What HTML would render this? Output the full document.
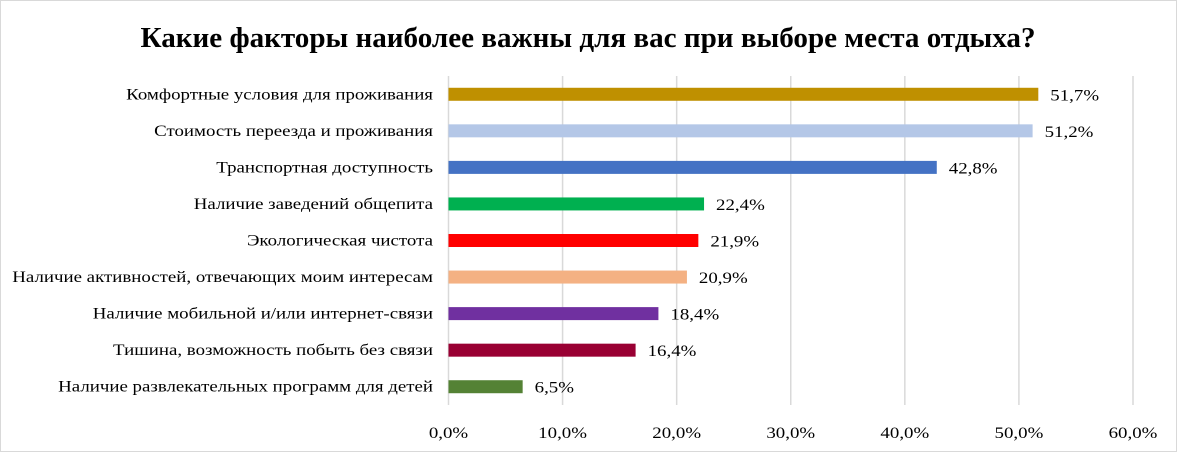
<!DOCTYPE html>
<html><head><meta charset="utf-8">
<style>
html,body{margin:0;padding:0;background:#fff}
svg{display:block}
text{font-family:"Liberation Serif","DejaVu Serif",serif;fill:#000}
</style></head>
<body>
<svg id="chart" width="1177" height="452" viewBox="0 0 1177 452">
<rect x="0.5" y="0.5" width="1176" height="451" fill="#fff" stroke="#d9d9d9" stroke-width="1"/>
<text x="588" y="47" text-anchor="middle" font-size="28" font-weight="bold" textLength="895" lengthAdjust="spacingAndGlyphs">Какие факторы наиболее важны для вас при выборе места отдыха?</text>
<g id="grid"></g><g id="bars"></g><g id="labels"></g>
</svg>
<script>
const categories = ["Комфортные условия для проживания","Стоимость переезда и проживания","Транспортная доступность","Наличие заведений общепита","Экологическая чистота","Наличие активностей, отвечающих моим интересам","Наличие мобильной и/или интернет-связи","Тишина, возможность побыть без связи","Наличие развлекательных программ для детей"];
const values = [51.7,51.2,42.8,22.4,21.9,20.9,18.4,16.4,6.5];
const valueLabels = ["51,7%","51,2%","42,8%","22,4%","21,9%","20,9%","18,4%","16,4%","6,5%"];
const colors = ["#bf9000","#b4c7e7","#4472c4","#00b050","#ff0000","#f4b183","#7030a0","#990033","#548235"];
const ticks = [0,10,20,30,40,50,60];
const tickLabels = ["0,0%","10,0%","20,0%","30,0%","40,0%","50,0%","60,0%"];

const NS="http://www.w3.org/2000/svg";
const x0=448.5, pxPer=(1133-448.5)/60;
const xs=v=>x0+v*pxPer;
const yTop=76, yBot=405, band=(yBot-yTop)/categories.length;
const yc=i=>yTop+band*(i+0.5);
const STRETCH=1.18;
const grid=document.getElementById('grid'), bars=document.getElementById('bars'), labels=document.getElementById('labels');
function mk(tag,attrs,parent){const e=document.createElementNS(NS,tag);for(const k in attrs)e.setAttribute(k,attrs[k]);parent.appendChild(e);return e;}
function stretch(t){const w=t.getComputedTextLength();t.setAttribute('textLength',w*STRETCH);t.setAttribute('lengthAdjust','spacingAndGlyphs');}
ticks.forEach((t,i)=>{
  const l=mk('line',{x1:xs(t),x2:xs(t),y1:yTop,y2:yBot,stroke:'#d9d9d9','stroke-width':1.5},grid);
  
  
  const tx=mk('text',{x:xs(t),y:438,'text-anchor':'middle','font-size':16},labels);
  tx.textContent=tickLabels[i];
  
  
  stretch(tx);
});
categories.forEach((c,i)=>{
  const y=yc(i);
  const r=mk('rect',{x:x0,y:y-6.5,width:xs(values[i])-x0,height:13,fill:colors[i]},bars);
  
  
  const cl=mk('text',{x:433,y:y+5,'text-anchor':'end','font-size':16},labels);
  cl.textContent=c;
  
  
  stretch(cl);
  const vl=mk('text',{x:xs(values[i])+12,y:y+6,'font-size':16},labels);
  vl.textContent=valueLabels[i];
  
  
  stretch(vl);
});
</script>
</body></html>
